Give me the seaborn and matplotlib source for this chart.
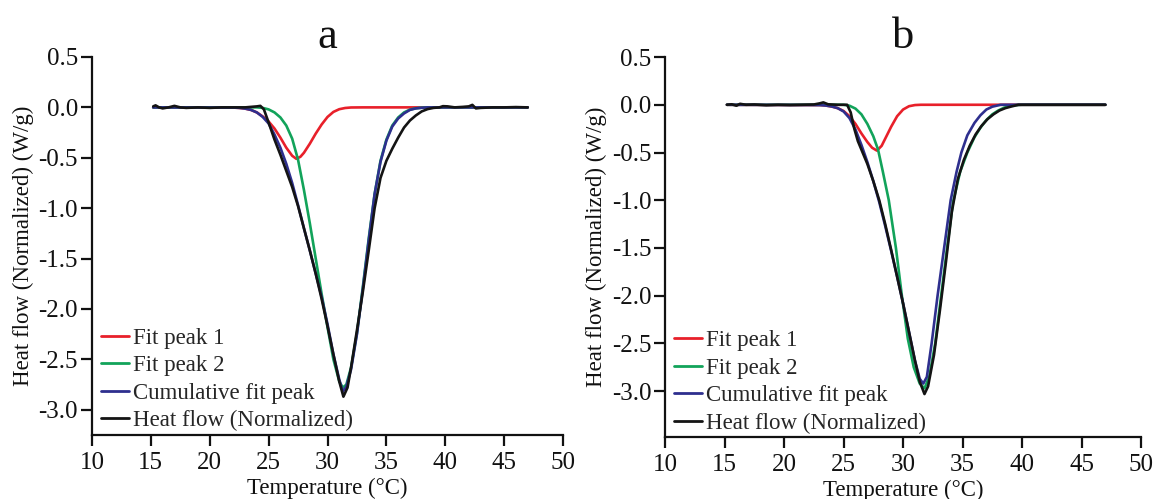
import numpy as np
import pandas as pd
import matplotlib
matplotlib.use("Agg")
import matplotlib.pyplot as plt
import seaborn as sns

# ---------------- Panel a data ----------------
a_red_T = [15.2, 22.0, 22.5, 23.0, 23.5, 24.0, 24.5, 25.0, 25.5, 26.0, 26.5, 27.0, 27.35, 27.7,
           28.0, 28.5, 29.0, 29.5, 30.0, 30.5, 31.0, 31.5, 32.0, 33.0, 47.0]
a_red_v = [0.0, -0.002, -0.005, -0.012, -0.025, -0.05, -0.09, -0.14, -0.21, -0.30, -0.40, -0.48, -0.51, -0.49,
           -0.45, -0.36, -0.26, -0.17, -0.095, -0.045, -0.018, -0.006, -0.001, 0.0, 0.0]

a_green_T = [15.2, 24.0, 24.5, 25.0, 25.5, 26.0, 26.5, 27.0, 27.5, 28.0, 28.5, 29.0, 29.5, 30.0, 30.5,
             31.0, 31.3, 31.6, 32.0, 32.5, 33.0, 33.5, 34.0, 34.5, 35.0, 35.5, 36.0, 36.5, 37.0, 37.5,
             38.0, 38.5, 47.0]
a_green_v = [0.0, 0.0, -0.005, -0.02, -0.05, -0.10, -0.18, -0.31, -0.52, -0.82, -1.15, -1.50, -1.85, -2.18, -2.50,
             -2.72, -2.78, -2.75, -2.58, -2.24, -1.78, -1.30, -0.86, -0.53, -0.32, -0.18, -0.10, -0.05, -0.022, -0.009,
             -0.003, 0.0, 0.0]

a_blue_T = [15.2, 22.0, 22.5, 23.0, 23.5, 24.0, 24.5, 25.0, 25.5, 26.0, 26.5, 27.0, 27.5, 28.0, 28.5,
            29.0, 29.5, 30.0, 30.5, 31.0, 31.3, 31.6, 32.0, 32.5, 33.0, 33.5, 34.0, 34.5, 35.0, 35.5,
            36.0, 36.5, 37.0, 37.5, 38.0, 38.5, 47.0]
a_blue_v = [0.0, -0.002, -0.005, -0.012, -0.025, -0.05, -0.095, -0.16, -0.27, -0.40, -0.56, -0.75, -0.97, -1.20, -1.42,
            -1.65, -1.88, -2.15, -2.45, -2.70, -2.82, -2.77, -2.60, -2.25, -1.80, -1.32, -0.86, -0.54, -0.33, -0.19,
            -0.11, -0.06, -0.025, -0.01, -0.004, 0.0, 0.0]

a_black_T = [15.2, 15.4, 15.7, 16.0, 16.5, 17.0, 17.5, 18.0, 19.0, 20.0, 21.0, 22.0, 23.0, 23.5, 24.0,
             24.3, 24.6, 25.0, 25.5, 26.0, 26.5, 27.0, 27.5, 28.0, 28.5, 29.0, 29.5, 30.0, 30.5, 31.0,
             31.35, 31.7, 32.0, 32.5, 33.0, 33.5, 34.0, 34.5, 35.0, 35.5, 36.0, 36.5, 37.0, 37.5, 38.0,
             38.5, 39.0, 39.5, 39.8, 40.2, 40.8, 41.5, 42.0, 42.3, 42.6, 43.0, 44.0, 45.0, 46.0, 47.0]
a_black_v = [0.01, 0.02, 0.0, -0.01, 0.0, 0.015, 0.0, -0.005, 0.0, -0.005, 0.0, 0.0, 0.0, 0.005, 0.01,
             0.015, -0.02, -0.15, -0.32, -0.47, -0.63, -0.79, -0.98, -1.20, -1.42, -1.65, -1.90, -2.17, -2.45, -2.72,
             -2.87, -2.78, -2.58, -2.21, -1.83, -1.42, -1.00, -0.70, -0.53, -0.41, -0.30, -0.20, -0.13, -0.08, -0.04,
             -0.017, -0.005, 0.0, 0.012, 0.01, 0.0, 0.005, 0.01, 0.025, -0.01, -0.005, 0.0, 0.0, 0.003, 0.0]

# ---------------- Panel b data ----------------
b_red_T = [15.2, 23.0, 23.5, 24.0, 24.5, 25.0, 25.5, 26.0, 26.5, 27.0, 27.4, 27.8, 28.2, 28.6, 29.0,
           29.5, 30.0, 30.5, 31.0, 31.5, 47.0]
b_red_v = [0.0, -0.003, -0.008, -0.018, -0.035, -0.065, -0.12, -0.20, -0.30, -0.39, -0.45, -0.48, -0.43, -0.33, -0.23,
           -0.12, -0.05, -0.015, -0.003, 0.0, 0.0]

b_green_T = [15.2, 25.0, 25.5, 26.0, 26.5, 27.0, 27.5, 27.9, 28.3, 28.8, 29.4, 29.9, 30.4, 30.9, 31.4,
             31.8, 32.2, 32.7, 33.2, 33.7, 34.2, 34.8, 35.4, 36.0, 36.5, 37.0, 37.5, 38.0, 38.5, 39.0,
             39.5, 40.0, 47.0]
b_green_v = [0.0, 0.0, -0.01, -0.04, -0.10, -0.20, -0.33, -0.47, -0.70, -1.00, -1.50, -2.00, -2.45, -2.75, -2.92,
             -2.97, -2.85, -2.50, -2.00, -1.50, -1.02, -0.70, -0.50, -0.34, -0.24, -0.16, -0.10, -0.06, -0.03, -0.012,
             -0.003, 0.0, 0.0]

b_blue_T = [15.2, 23.0, 23.5, 24.0, 24.5, 25.0, 25.5, 26.0, 26.5, 27.0, 27.5, 28.0, 28.5, 29.0, 29.5,
            30.0, 30.5, 31.0, 31.4, 31.7, 32.0, 32.4, 32.9, 33.45, 34.0, 34.5, 34.9, 35.4, 36.0, 36.5,
            37.0, 37.5, 38.2, 47.0]
b_blue_v = [0.0, -0.003, -0.008, -0.018, -0.035, -0.07, -0.14, -0.26, -0.42, -0.60, -0.80, -1.02, -1.27, -1.53, -1.80,
            -2.08, -2.38, -2.68, -2.87, -2.92, -2.85, -2.50, -2.00, -1.50, -1.00, -0.70, -0.50, -0.32, -0.19, -0.11,
            -0.05, -0.02, 0.0, 0.0]

b_black_T = [15.2, 15.6, 16.0, 16.3, 16.8, 17.5, 18.5, 19.5, 20.5, 21.5, 22.5, 23.0, 23.3, 23.7, 24.5,
             25.3, 25.6, 25.9, 26.2, 26.6, 27.0, 27.5, 28.0, 28.5, 29.0, 29.5, 30.0, 30.5, 31.0, 31.4,
             31.8, 32.1, 32.6, 33.1, 33.6, 34.1, 34.6, 35.1, 35.6, 36.1, 36.6, 37.1, 37.6, 38.1, 38.6,
             39.1, 39.7, 40.5, 42.0, 44.0, 47.0]
b_black_v = [0.0, 0.005, -0.01, 0.01, 0.0, 0.003, -0.005, 0.0, -0.003, 0.0, 0.003, 0.015, 0.025, 0.005, 0.0,
             0.0, -0.08, -0.25, -0.38, -0.50, -0.62, -0.80, -1.00, -1.25, -1.52, -1.80, -2.08, -2.38, -2.68, -2.90,
             -3.03, -2.95, -2.62, -2.15, -1.65, -1.12, -0.78, -0.58, -0.43, -0.31, -0.22, -0.15, -0.10, -0.06, -0.035,
             -0.018, 0.0, 0.0, 0.0, 0.0, 0.0]

legend_labels = ["Fit peak 1", "Fit peak 2", "Cumulative fit peak", "Heat flow (Normalized)"]
colors = ["#E8202A", "#12A35A", "#2E2F8E", "#141414"]
x_ticks = [10, 15, 20, 25, 30, 35, 40, 45, 50]
y_ticks = [0.5, 0.0, -0.5, -1.0, -1.5, -2.0, -2.5, -3.0]
y_tick_labels = ["0.5", "0.0", "-0.5", "-1.0", "-1.5", "-2.0", "-2.5", "-3.0"]
panel_titles = ["a", "b"]

sns.set_style("ticks")
plt.rcParams['font.family'] = ['Liberation Serif', 'DejaVu Serif']

fig = plt.figure(figsize=(11.54, 4.99), dpi=100)
ax_a = fig.add_axes([0.0797, 0.1283, 0.4082, 0.7575])
ax_b = fig.add_axes([0.5763, 0.1242, 0.4125, 0.7615])

panels = [
    (ax_a, [(a_red_T, a_red_v), (a_green_T, a_green_v), (a_blue_T, a_blue_v), (a_black_T, a_black_v)], -3.25),
    (ax_b, [(b_red_T, b_red_v), (b_green_T, b_green_v), (b_blue_T, b_blue_v), (b_black_T, b_black_v)], -3.48),
]

for i, (ax, series, ybot) in enumerate(panels):
    for (T, v), lab, col in zip(series, legend_labels, colors):
        df = pd.DataFrame({"T": T, "v": v})
        sns.lineplot(data=df, x="T", y="v", ax=ax, color=col, linewidth=1.9,
                     label=lab, estimator=None, sort=False)
    ax.set_xlim(10, 50)
    ax.set_ylim(ybot, 0.5)
    ax.set_xticks(x_ticks)
    ax.set_yticks(y_ticks)
    ax.set_yticklabels(y_tick_labels)
    ax.tick_params(axis='both', direction='out', length=8, width=1.6, labelsize=18, colors='#111111')
    ax.tick_params(axis='x', pad=4)
    ax.tick_params(axis='y', pad=2)
    for s in ['top', 'right']:
        ax.spines[s].set_visible(False)
    for s in ['left', 'bottom']:
        ax.spines[s].set_linewidth(1.6)
        ax.spines[s].set_color('#111111')
    ax.spines['left'].set_bounds(ybot, 0.5)
    ax.set_xlabel("Temperature (°C)", fontsize=16.5, labelpad=3, color='#111111')
    ax.set_ylabel("Heat flow (Normalized) (W/g)", fontsize=16.5, labelpad=3, color='#111111')
    ax.set_title(panel_titles[i], fontsize=32, pad=4, color='#111111')
    leg = ax.legend(loc='lower left', frameon=False, fontsize=16.5, handlelength=1.22,
                    handletextpad=0.15, labelspacing=0.28, borderaxespad=0.0,
                    bbox_to_anchor=(0.0, -0.015))
    for line in leg.get_lines():
        line.set_linewidth(2.0)
    ax.set_facecolor('white')

fig.savefig("out.png", dpi=100, facecolor='white')
